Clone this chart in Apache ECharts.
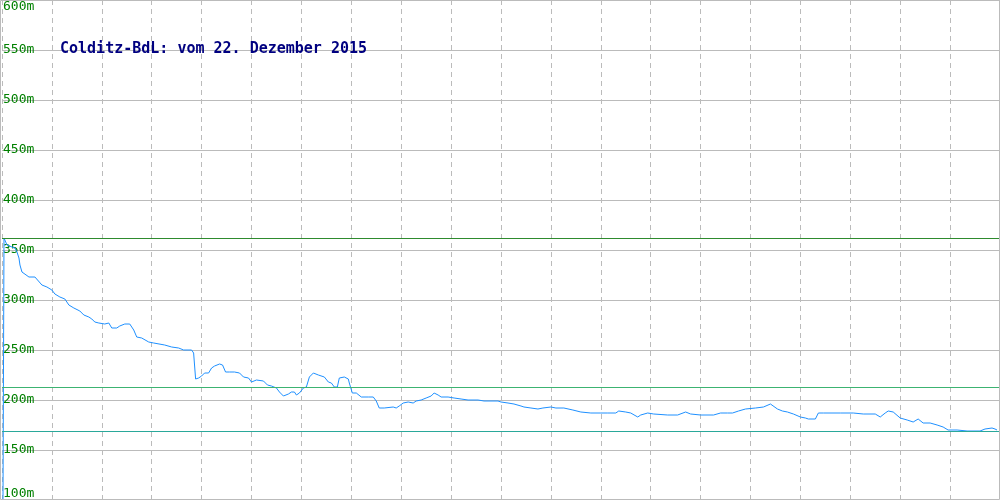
<!DOCTYPE html>
<html>
<head>
<meta charset="utf-8">
<script src="https://cdn.jsdelivr.net/npm/echarts@6/dist/echarts.min.js"></script>
<style>html,body{margin:0;padding:0;background:#fff}#c{width:1000px;height:500px}</style>
</head>
<body>
<div id="c"></div>
<script>
const titleText = 'Colditz-BdL: vom 22. Dezember 2015';
const distance = [1,2,3,5,10,13,15,17,18,20,22,27,33,35,40,45,50,53,58,63,67,72,78,82,87,90,93,97,103,107,110,115,118,123,128,132,135,140,147,152,163,170,177,182,190,192,194,197,200,203,207,210,213,218,221,224,228,233,238,242,247,250,255,262,266,270,275,278,282,287,290,293,295,298,302,305,308,312,317,323,327,330,333,336,338,343,347,348,351,355,360,367,372,375,378,383,392,395,398,402,407,412,415,420,425,430,433,437,440,447,453,460,467,477,483,497,500,507,513,520,523,530,537,542,550,555,563,572,580,590,600,607,615,618,625,630,637,640,647,653,667,677,685,690,700,713,720,727,732,738,745,755,763,770,777,782,787,793,800,805,808,815,818,823,840,853,863,875,880,885,888,893,900,907,913,918,923,930,937,943,948,957,958,967,980,985,992,995,997];
const height = [100,362,360,355,353,352,348,342,335,328,326,323,323,322,315,313,310,306,303,301,295,292,289,285,283,281,278,277,276,277,272,272,274,276,276,270,263,262,258,257,255,253,252,250,250,247,221,222,224,227,227,232,234,236,235,228,228,228,227,223,222,218,220,219,215,214,212,208,204,206,208,208,205,207,212,213,223,227,225,223,218,217,213,213,222,223,221,217,207,207,203,203,203,199,192,192,193,192,194,197,198,197,199,200,202,204,207,205,203,203,202,201,200,200,199,199,198,197,196,194,193,192,191,192,193,192,192,190,188,187,187,187,187,189,188,187,183,185,187,186,185,185,188,186,185,185,187,187,187,189,191,192,193,196,191,189,188,186,183,182,181,181,187,187,187,187,186,186,183,187,189,188,182,180,178,181,177,177,175,173,170,170,169,169,169,171,172,171,170];
const yTicks = {min: 100, max: 600, step: 50};
const refLines = [
  {value: 361.5, color: '#2e8b2e'},
  {value: 212.5, color: '#3cb371'},
  {value: 168.5, color: '#2aa89a'}
];

const chart = echarts.init(document.getElementById('c'), null, {renderer: 'canvas'});
const pts = distance.map((d, i) => [d, height[i]]);
chart.setOption({
  animation: false,
  backgroundColor: '#fff',
  title: {
    text: titleText, left: 60, top: 42, padding: 0,
    textStyle: {fontFamily: 'DejaVu Sans Mono', fontWeight: 'bold', fontSize: 15, color: '#000080'}
  },
  graphic: [{
    type: 'rect', silent: true, z: 10,
    shape: {x: 0.5, y: 0.5, width: 999, height: 499},
    style: {fill: null, stroke: '#bbbbbb', lineWidth: 1}
  }],
  grid: {left: 0, right: 0, top: 0, bottom: 0, show: false},
  xAxis: {
    type: 'value', min: 0, max: 1000, interval: 50,
    axisLine: {show: false}, axisTick: {show: false}, axisLabel: {show: false},
    splitLine: {show: true, lineStyle: {color: '#bbbbbb', type: [5, 4], width: 1}}
  },
  yAxis: {
    type: 'value', min: yTicks.min, max: yTicks.max, interval: yTicks.step,
    axisLine: {show: false}, axisTick: {show: false},
    axisLabel: {
      inside: true, margin: 1, formatter: '{value}m', color: '#008000',
      fontFamily: 'DejaVu Sans Mono', fontSize: 13,
      verticalAlignMinLabel: 'bottom', verticalAlignMaxLabel: 'top'
    },
    splitLine: {show: true, lineStyle: {color: '#bbbbbb', width: 1}}
  },
  series: [{
    type: 'line', data: pts, showSymbol: false, symbol: 'none',
    lineStyle: {color: '#1e90ff', width: 1}, itemStyle: {color: '#1e90ff'},
    z: 3,
    markLine: {
      silent: true, symbol: 'none', label: {show: false},
      data: refLines.map(r => ({yAxis: r.value, lineStyle: {color: r.color, type: 'solid', width: 1}}))
    }
  }]
});
</script>
</body>
</html>
